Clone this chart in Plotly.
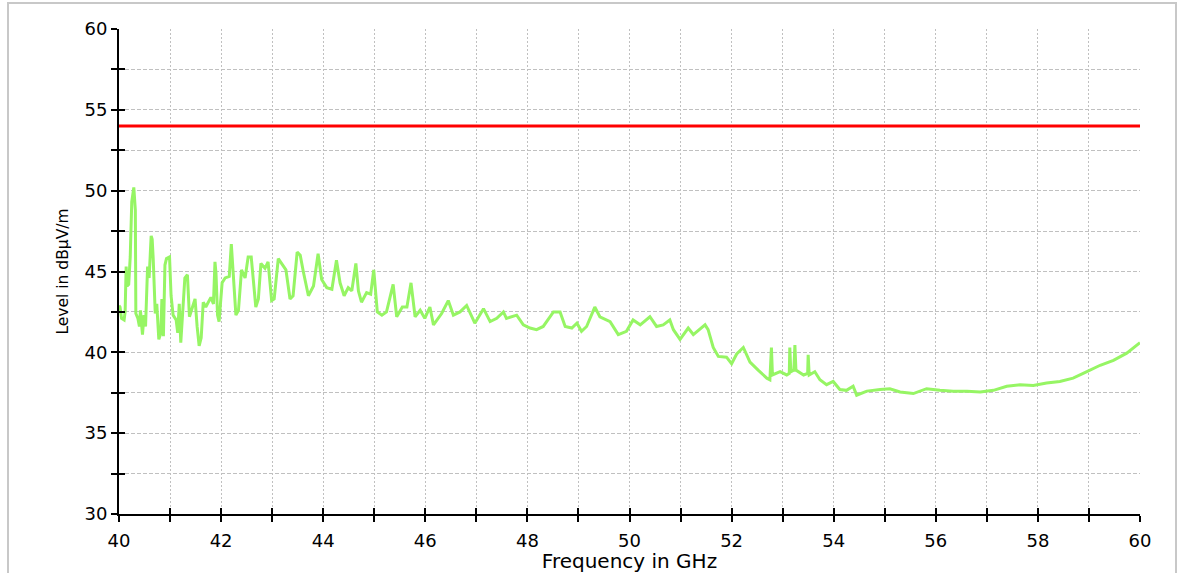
import plotly.graph_objects as go

# ---- data ----
freq_ghz = [40.00, 40.02, 40.05, 40.10, 40.12, 40.14, 40.16, 40.19, 40.22, 40.25, 40.29, 40.32, 40.33,
            40.37, 40.40, 40.42, 40.46, 40.49, 40.52, 40.56, 40.59, 40.63, 40.65, 40.67, 40.71, 40.74,
            40.78, 40.82, 40.84, 40.87, 40.90, 40.93, 40.99, 41.02, 41.06, 41.12, 41.15, 41.18, 41.21,
            41.25, 41.29, 41.34, 41.38, 41.44, 41.49, 41.53, 41.57, 41.61, 41.65, 41.70, 41.75, 41.80,
            41.85, 41.88, 41.90, 41.93, 41.96, 42.02, 42.08, 42.16, 42.20, 42.24, 42.29, 42.34, 42.40,
            42.47, 42.53, 42.59, 42.63, 42.68, 42.73, 42.78, 42.86, 42.92, 42.99, 43.04, 43.12, 43.19,
            43.27, 43.35, 43.41, 43.49, 43.55, 43.61, 43.71, 43.81, 43.90, 43.97, 44.07, 44.17, 44.26,
            44.33, 44.41, 44.49, 44.56, 44.64, 44.69, 44.75, 44.85, 44.93, 44.99, 45.06, 45.15, 45.24,
            45.34, 45.37, 45.44, 45.55, 45.64, 45.72, 45.80, 45.90, 45.99, 46.09, 46.16, 46.32, 46.45,
            46.55, 46.68, 46.81, 46.97, 47.14, 47.27, 47.40, 47.53, 47.59, 47.79, 47.92, 48.05, 48.18,
            48.31, 48.51, 48.64, 48.74, 48.87, 48.97, 49.06, 49.16, 49.32, 49.42, 49.62, 49.78, 49.94,
            50.07, 50.21, 50.40, 50.53, 50.66, 50.79, 50.86, 50.99, 51.15, 51.25, 51.48, 51.54, 51.64,
            51.74, 51.90, 52.00, 52.10, 52.23, 52.36, 52.52, 52.69, 52.75, 52.78, 52.80, 52.95, 53.08,
            53.13, 53.14, 53.16, 53.22, 53.24, 53.26, 53.41, 53.49, 53.50, 53.52, 53.63, 53.73, 53.86,
            53.99, 54.12, 54.25, 54.38, 54.45, 54.65, 54.91, 55.10, 55.30, 55.56, 55.82, 56.08, 56.34,
            56.61, 56.87, 57.13, 57.39, 57.65, 57.91, 58.17, 58.43, 58.69, 58.96, 59.22, 59.48, 59.74,
            60.00]
level_dbuvm = [42.9, 42.8, 42.1, 42.0, 42.5, 45.3, 44.1, 44.2, 45.9, 49.3, 50.2, 48.8, 42.4,
               42.1, 41.6, 42.6, 41.1, 42.3, 41.6, 45.3, 44.6, 47.2, 47.0, 45.8, 42.4, 43.0,
               40.8, 41.2, 43.3, 41.0, 45.4, 45.8, 45.9, 43.5, 42.3, 42.0, 41.2, 43.0, 40.6,
               42.6, 44.6, 44.8, 42.2, 42.8, 43.3, 41.6, 40.4, 40.9, 43.1, 42.8, 43.1, 43.4,
               43.0, 45.6, 44.9, 42.3, 41.9, 44.3, 44.6, 44.7, 46.7, 44.6, 42.3, 42.6, 45.1,
               44.6, 45.9, 45.9, 44.5, 42.8, 43.3, 45.5, 45.2, 45.6, 43.2, 43.3, 45.8, 45.5,
               45.1, 43.3, 43.5, 46.2, 46.0, 45.0, 43.5, 44.1, 46.1, 44.5, 44.0, 43.9, 45.7,
               44.3, 43.5, 44.0, 43.8, 45.5, 43.8, 43.1, 43.7, 43.6, 45.1, 42.5, 42.3, 42.5,
               43.9, 44.2, 42.2, 42.8, 42.8, 44.3, 42.2, 42.6, 42.1, 42.8, 41.7, 42.4, 43.2,
               42.3, 42.5, 42.9, 41.8, 42.7, 41.9, 42.1, 42.5, 42.1, 42.3, 41.7, 41.5, 41.4,
               41.6, 42.5, 42.5, 41.6, 41.5, 41.8, 41.3, 41.6, 42.8, 42.2, 41.9, 41.1, 41.3,
               42.0, 41.7, 42.2, 41.6, 41.7, 42.0, 41.4, 40.8, 41.5, 41.1, 41.7, 41.4, 40.3,
               39.75, 39.7, 39.3, 39.9, 40.3, 39.4, 38.9, 38.4, 38.3, 40.3, 38.6, 38.8, 38.6,
               38.7, 40.3, 38.8, 38.9, 40.45, 38.9, 38.6, 38.7, 39.85, 38.6, 38.8, 38.3, 38.0,
               38.2, 37.7, 37.65, 37.9, 37.35, 37.6, 37.7, 37.75, 37.55, 37.45, 37.75, 37.65, 37.6,
               37.6, 37.55, 37.65, 37.9, 38.0, 37.95, 38.1, 38.2, 38.4, 38.8, 39.2, 39.5, 39.95,
               40.6]
limit_freq = [40, 60]
limit_level = [54, 54]

x_major_ticks = [40, 42, 44, 46, 48, 50, 52, 54, 56, 58, 60]
y_major_ticks = [30, 35, 40, 45, 50, 55, 60]

FONT = "DejaVu Sans"
GRID = "#c0c0c0"

fig = go.Figure()
fig.add_trace(go.Scatter(x=freq_ghz, y=level_dbuvm, mode="lines",
                         line=dict(color="rgb(150,245,100)", width=3),
                         showlegend=False, hoverinfo="skip"))
fig.add_trace(go.Scatter(x=limit_freq, y=limit_level, mode="lines",
                         line=dict(color="#ff0000", width=3),
                         xaxis="x2", yaxis="y2", showlegend=False, hoverinfo="skip"))

W, H = 1177, 573
L, R, T, B = 119, 37, 29, 59
pw, ph = W - L - R, H - T - B

fig.update_layout(
    width=W, height=H,
    margin=dict(l=L, r=R, t=T, b=B, autoexpand=False),
    paper_bgcolor="white", plot_bgcolor="white",
    font=dict(family=FONT, color="black"),
    xaxis=dict(range=[40, 60], tickvals=x_major_ticks, ticks="outside", ticklen=6,
               tickwidth=2, tickcolor="black", showline=True, linecolor="black", linewidth=2,
               showgrid=True, gridcolor=GRID, gridwidth=1, griddash="2px,2px",
               minor=dict(dtick=1, ticks="outside", ticklen=6, tickwidth=2, tickcolor="black",
                          showgrid=True, gridcolor=GRID, gridwidth=1, griddash="2px,2px"),
               tickfont=dict(size=18, family=FONT), ticklabelstandoff=3,
               title=dict(text="Frequency in GHz", font=dict(size=20, family=FONT), standoff=3),
               zeroline=False, automargin=False),
    yaxis=dict(range=[30, 60], tickvals=y_major_ticks, ticks="outside", ticklen=6,
               tickwidth=2, tickcolor="black", showline=True, linecolor="black", linewidth=2,
               showgrid=True, gridcolor=GRID, gridwidth=1, griddash="4px,2px",
               minor=dict(dtick=2.5, ticks="outside", ticklen=6, tickwidth=2, tickcolor="black",
                          showgrid=True, gridcolor=GRID, gridwidth=1, griddash="4px,2px"),
               tickfont=dict(size=18, family=FONT),
               title=dict(text="Level in dBµV/m", font=dict(size=15.5, family=FONT), standoff=12),
               zeroline=False, automargin=False),
    xaxis2=dict(range=[40, 60], overlaying="x", side="bottom", anchor="y2", dtick=1,
                ticks="inside", ticklen=6, tickwidth=2, tickcolor="black",
                showticklabels=False, showgrid=False, showline=False, zeroline=False),
    yaxis2=dict(range=[30, 60], overlaying="y", side="left", anchor="x2", dtick=2.5,
                ticks="inside", ticklen=6, tickwidth=2, tickcolor="black",
                showticklabels=False, showgrid=False, showline=False, zeroline=False),
)

# outer light-grey frame of the picture
fx0 = (8 - L) / pw
fx1 = (1176 - L) / pw
fy1 = 1 + (T - 3) / ph
fy0 = -(B + 10) / ph
fig.add_shape(type="rect", xref="paper", yref="paper", x0=fx0, x1=fx1, y0=fy0, y1=fy1,
              line=dict(color="#c8c8c8", width=2), fillcolor="rgba(0,0,0,0)", layer="below")

fig.write_html("out.html")
